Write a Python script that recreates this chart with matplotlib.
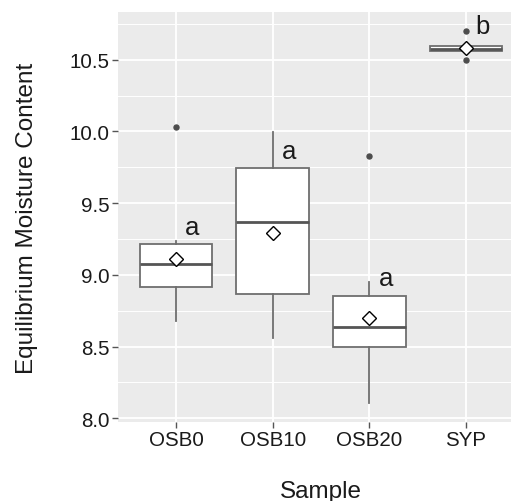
import matplotlib
matplotlib.use("Agg")
import matplotlib.pyplot as plt
from matplotlib.ticker import MultipleLocator

# ---- data ----
samples = ["OSB0", "OSB10", "OSB20", "SYP"]
q1 = [8.916, 8.865, 8.500, 10.560]
med = [9.079, 9.370, 8.639, 10.575]
q3 = [9.212, 9.742, 8.851, 10.595]
whislo = [8.679, 8.561, 8.109, 10.560]
whishi = [9.233, 9.993, 8.951, 10.595]
fliers = [[10.032], [], [9.828], [10.702, 10.498]]
means = [9.109, 9.289, 8.700, 10.579]
letters = ["a", "a", "a", "b"]
letter_y = [9.333, 9.865, 8.977, 10.733]
yticks = [8.0, 8.5, 9.0, 9.5, 10.0, 10.5]

plt.rcParams['font.family'] = ['Liberation Sans', 'DejaVu Sans']

W, H, DPI = 511, 502, 100
fig = plt.figure(figsize=(W / DPI, H / DPI), dpi=DPI)
# panel: x 118..524 px (cropped at right), y 13..423 px
left, right, top, bottom = 118, 524, 13, 423
ax = fig.add_axes([left / W, 1 - bottom / H, (right - left) / W, (bottom - top) / H])

ax.set_facecolor("#EBEBEB")
for s in ax.spines.values():
    s.set_visible(False)

positions = list(range(1, len(samples) + 1))
stats = []
for i in range(len(samples)):
    stats.append(dict(med=med[i], q1=q1[i], q3=q3[i], whislo=whislo[i],
                      whishi=whishi[i], fliers=fliers[i], mean=means[i],
                      label=samples[i]))

edge = "#6E6E6E"
ax.bxp(stats, positions=positions, widths=0.75, patch_artist=True,
       showmeans=True, showcaps=False,
       boxprops=dict(facecolor="white", edgecolor=edge, linewidth=1.3),
       whiskerprops=dict(color=edge, linewidth=1.3),
       medianprops=dict(color="#555555", linewidth=2.0),
       flierprops=dict(marker="o", markerfacecolor="#4D4D4D", markeredgecolor="#4D4D4D",
                       markersize=3.6, linestyle="none"),
       meanprops=dict(marker="D", markerfacecolor="white", markeredgecolor="black",
                      markersize=7, markeredgewidth=1.0),
       zorder=3)

for x, lab, y in zip(positions, letters, letter_y):
    ax.text(x + 0.17, y, lab, fontsize=18.5, ha="center", va="center",
            color="#1a1a1a", zorder=4)

ax.set_xlim(0.4, 4.6)
ax.set_ylim(7.974, 10.833)
ax.set_xticks(positions)
ax.set_xticklabels(samples)
ax.set_yticks(yticks)
ax.set_yticklabels([f"{v:.1f}" for v in yticks])
ax.yaxis.set_minor_locator(MultipleLocator(0.25))
ax.grid(True, which="major", color="white", linewidth=1.3, zorder=0)
ax.grid(True, which="minor", axis="y", color="white", linewidth=0.7, zorder=0)
ax.set_axisbelow(True)
ax.tick_params(axis="both", which="major", length=4, width=1.0, color="#555555",
               labelsize=14.8, labelcolor="#1a1a1a", pad=2)
ax.tick_params(axis="y", which="minor", length=0)

ax.set_xlabel("Sample", fontsize=17.5, color="#1a1a1a", labelpad=22)
ax.set_ylabel("Equilibrium Moisture Content", fontsize=17.5, color="#1a1a1a", labelpad=23)

fig.savefig("out.png", dpi=DPI)
